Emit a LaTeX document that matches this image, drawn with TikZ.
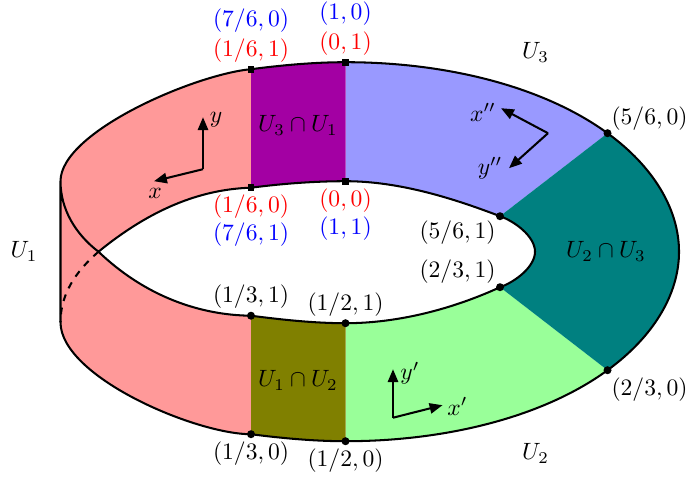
\documentclass[tikz,border=0pt]{standalone}
\usetikzlibrary{arrows.meta}
\definecolor{bandA}{RGB}{255,153,153}
\definecolor{bandB}{RGB}{153,255,153}
\definecolor{bandC}{RGB}{153,153,255}
\definecolor{capAB}{RGB}{128,128,0}
\definecolor{capBC}{RGB}{0,128,128}
\definecolor{capCA}{RGB}{163,0,163}
\tikzset{
  dot/.style={circle,fill=black,inner sep=0pt,minimum size=3.4pt},
  sqr/.style={rectangle,fill=black,inner sep=0pt,minimum size=2.9pt},
  axis/.style={line width=0.9pt,-{Triangle[length=2mm,width=1.6mm]}}
}
\begin{document}
\begin{tikzpicture}[scale=0.775, every node/.style={scale=1.04}]
  \useasboundingbox (-6.91,-4.506) rectangle (6.85,5.034);
  % band corners
  \coordinate (tl) at (-1.89,3.65);
  \coordinate (tm) at (0,3.79);
  \coordinate (cl) at (-1.89,1.28);
  \coordinate (cm) at (0,1.41);
  \coordinate (fr) at (5.24,2.37);
  \coordinate (er) at (3.09,0.71);
  \coordinate (go) at (6.67,0);
  \coordinate (gi) at (3.79,0);
  \coordinate (hr) at (5.24,-2.37);
  \coordinate (jr) at (3.09,-0.71);
  \coordinate (km) at (0,-3.79);
  \coordinate (kl) at (-1.89,-3.65);
  \coordinate (ml) at (-1.89,-1.28);
  \coordinate (mm) at (0,-1.43);
  \coordinate (a) at (-5.70,1.41);
  \coordinate (b) at (-5.70,-1.41);
  \coordinate (c) at (-4.94,0);

  % fills
  \fill[bandA] (tl) .. controls (-3.0,3.55) and (-5.7,2.4) .. (a) -- (b)
    .. controls (-5.7,-2.5) and (-3.0,-3.65) .. (kl) -- (ml)
    .. controls (-2.9,-1.27) and (-4.0,-0.9) .. (c)
    .. controls (-3.9,0.85) and (-2.9,1.25) .. (cl) -- cycle;
  \fill[bandC] (tm) .. controls (2.05,3.79) and (3.98,3.29) .. (fr) -- (er)
    .. controls (2.2,1.05) and (1.1,1.41) .. (cm) -- cycle;
  \fill[bandB] (km) .. controls (2.05,-3.79) and (3.98,-3.29) .. (hr) -- (jr)
    .. controls (2.2,-1.12) and (1.1,-1.43) .. (mm) -- cycle;
  \fill[capCA] (tl) .. controls (-1.27,3.73) and (-0.63,3.79) .. (tm) -- (cm)
    .. controls (-0.63,1.41) and (-1.27,1.36) .. (cl) -- cycle;
  \fill[capAB] (kl) .. controls (-1.27,-3.73) and (-0.63,-3.79) .. (km) -- (mm)
    .. controls (-0.63,-1.43) and (-1.27,-1.36) .. (ml) -- cycle;
  \fill[capBC] (fr) .. controls (6.16,1.70) and (6.67,0.85) .. (go)
    .. controls (6.67,-0.85) and (6.16,-1.70) .. (hr) -- (jr)
    .. controls (3.4,-0.6) and (3.79,-0.3) .. (gi)
    .. controls (3.79,0.3) and (3.4,0.6) .. (er) -- cycle;

  % outlines
  \draw[line width=0.9pt] (a) .. controls (-5.7,2.4) and (-3.0,3.55) .. (tl)
    .. controls (-1.27,3.73) and (-0.63,3.79) .. (tm)
    .. controls (2.05,3.79) and (3.98,3.29) .. (fr)
    .. controls (6.16,1.70) and (6.67,0.85) .. (go)
    .. controls (6.67,-0.85) and (6.16,-1.70) .. (hr)
    .. controls (3.98,-3.29) and (2.05,-3.79) .. (km)
    .. controls (-0.63,-3.79) and (-1.27,-3.73) .. (kl)
    .. controls (-3.0,-3.65) and (-5.7,-2.5) .. (b) -- (a)
    .. controls (-5.7,0.85) and (-5.4,0.35) .. (c)
    .. controls (-4.0,-0.9) and (-2.9,-1.27) .. (ml)
    .. controls (-1.27,-1.36) and (-0.63,-1.43) .. (mm)
    .. controls (1.1,-1.43) and (2.2,-1.12) .. (jr)
    .. controls (3.4,-0.6) and (3.79,-0.3) .. (gi)
    .. controls (3.79,0.3) and (3.4,0.6) .. (er)
    .. controls (2.2,1.05) and (1.1,1.41) .. (cm)
    .. controls (-0.63,1.41) and (-1.27,1.36) .. (cl)
    .. controls (-2.9,1.25) and (-3.9,0.85) .. (c);
  \draw[line width=0.9pt,dashed] (c) .. controls (-5.4,-0.4) and (-5.7,-0.85) .. (b);

  % markers
  \node[sqr] (ptl) at (tl) {};
  \node[sqr] (ptm) at (tm) {};
  \node[sqr] (pcl) at (cl) {};
  \node[sqr] (pcm) at (cm) {};
  \foreach \p in {fr,er,jr,hr,km,kl,ml,mm} {
    \node[dot] (p\p) at (\p) {};
  }

  % coordinates of the band
  \node[text=blue] (l76a) at (-1.89,4.62) {\((7/6,0)\)};
  \node[text=red] (l16a) at (-1.89,4.03) {\((1/6,1)\)};
  \node[text=blue] (l10) at (0,4.77) {\((1,0)\)};
  \node[text=red] (l01) at (0,4.17) {\((0,1)\)};
  \node[text=red] (l16b) at (-1.89,0.91) {\((1/6,0)\)};
  \node[text=blue] (l76b) at (-1.89,0.35) {\((7/6,1)\)};
  \node[text=red] (l00) at (0,1.03) {\((0,0)\)};
  \node[text=blue] (l11) at (0,0.47) {\((1,1)\)};
  \node (l56a) at (6.08,2.67) {\((5/6,0)\)};
  \node (l56b) at (2.24,0.39) {\((5/6,1)\)};
  \node (l23b) at (2.24,-0.39) {\((2/3,1)\)};
  \node (l23a) at (6.08,-2.76) {\((2/3,0)\)};
  \node (l13b) at (-1.89,-0.89) {\((1/3,1)\)};
  \node (l12b) at (0,-1.05) {\((1/2,1)\)};
  \node (l13a) at (-1.89,-4.03) {\((1/3,0)\)};
  \node (l12a) at (0,-4.17) {\((1/2,0)\)};

  % patches
  \node (u31) at (-0.95,2.53) {\(U_3\cap U_1\)};
  \node (u12) at (-0.95,-2.57) {\(U_1\cap U_2\)};
  \node (u23) at (5.21,0) {\(U_2\cap U_3\)};
  \node (u1) at (-6.43,0) {\(U_1\)};
  \node (u2) at (3.8,-4.03) {\(U_2\)};
  \node (u3) at (3.8,3.99) {\(U_3\)};

  % frames
  \coordinate (oa) at (-2.85,1.65);
  \coordinate (xa) at (-3.83,1.41);
  \coordinate (ya) at (-2.85,2.69);
  \node (lxa) at (-3.81,1.17) {\(x\)};
  \node (lya) at (-2.59,2.63) {\(y\)};
  \draw[axis] (oa) -- (xa);
  \draw[axis] (oa) -- (ya);
  \coordinate (ob) at (0.95,-3.32);
  \coordinate (xb) at (1.94,-3.07);
  \coordinate (yb) at (0.95,-2.35);
  \node (lxb) at (2.24,-3.09) {\(x'\)};
  \node (lyb) at (1.29,-2.43) {\(y'\)};
  \draw[axis] (ob) -- (xb);
  \draw[axis] (ob) -- (yb);
  \coordinate (oc) at (4.05,2.37);
  \coordinate (xc) at (3.11,2.87);
  \coordinate (yc) at (3.27,1.67);
  \node (lxc) at (2.75,2.79) {\(x''\)};
  \node (lyc) at (2.89,1.67) {\(y''\)};
  \draw[axis] (oc) -- (xc);
  \draw[axis] (oc) -- (yc);
\end{tikzpicture}
\end{document}
